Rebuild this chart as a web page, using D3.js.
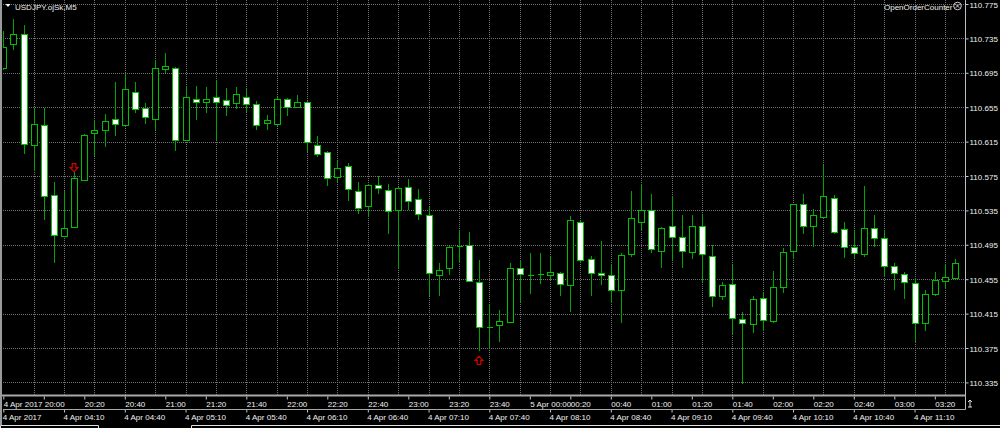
<!DOCTYPE html>
<html><head><meta charset="utf-8">
<script src="https://cdn.jsdelivr.net/npm/d3@7"></script>
<style>
body{margin:0;background:#000;overflow:hidden;}
svg{display:block;}
text{font-family:"Liberation Sans",Arial,sans-serif;font-size:8px;fill:#f0f0f0;}
</style>
</head><body>
<svg id="chart" width="1000" height="428"></svg>
<script>
// ---------------- DATA ----------------
const symbolTitle = "USDJPY.ojSk,M5";
const indicatorTitle = "OpenOrderCounter";

const open = [
110.701,110.728,110.740,110.611,110.634,110.553,110.506,110.516,110.571,110.625,
110.628,110.641,110.634,110.673,110.654,110.642,110.699,110.701,110.617,110.665,
110.661,110.667,110.663,110.659,110.667,110.659,110.636,110.636,110.665,110.655,
110.661,110.611,110.603,110.573,110.587,110.557,110.539,110.564,110.559,110.535,
110.562,110.548,110.530,110.460,110.468,110.494,110.495,110.452,110.399,110.401,
110.405,110.468,110.460,110.461,110.460,110.462,110.449,110.522,110.478,110.462,
110.460,110.442,110.484,110.521,110.535,110.488,110.517,110.504,110.487,110.517,
110.482,110.435,110.449,110.409,110.403,110.433,110.407,110.446,110.487,110.543,
110.517,110.528,110.550,110.513,110.492,110.485,110.515,110.503,110.470,110.461,
110.451,110.404,110.438,110.452,110.457];

const high = [
110.744,110.758,110.751,110.654,110.654,110.568,110.558,110.580,110.624,110.640,
110.647,110.684,110.694,110.684,110.660,110.710,110.718,110.702,110.680,110.680,
110.679,110.687,110.677,110.679,110.676,110.662,110.646,110.667,110.666,110.669,
110.662,110.621,110.604,110.592,110.590,110.568,110.566,110.575,110.566,110.562,
110.572,110.560,110.539,110.474,110.494,110.512,110.510,110.477,110.425,110.419,
110.474,110.477,110.486,110.485,110.481,110.463,110.528,110.523,110.482,110.499,
110.473,110.485,110.558,110.566,110.554,110.516,110.552,110.530,110.530,110.530,
110.495,110.452,110.472,110.417,110.435,110.440,110.464,110.491,110.543,110.554,
110.537,110.588,110.553,110.522,110.512,110.563,110.530,110.512,110.474,110.463,
110.456,110.443,110.463,110.473,110.479];

const low = [
110.698,110.721,110.601,110.581,110.524,110.474,110.505,110.515,110.570,110.598,
110.609,110.621,110.633,110.648,110.636,110.629,110.695,110.604,110.616,110.640,
110.648,110.617,110.645,110.653,110.650,110.629,110.628,110.633,110.645,110.654,
110.603,110.597,110.563,110.568,110.546,110.531,110.527,110.554,110.508,110.467,
110.535,110.524,110.435,110.435,110.460,110.474,110.452,110.371,110.375,110.382,
110.404,110.428,110.438,110.449,110.454,110.435,110.417,110.474,110.435,110.448,
110.427,110.404,110.481,110.512,110.485,110.468,110.477,110.468,110.479,110.452,
110.423,110.431,110.391,110.333,110.392,110.395,110.404,110.439,110.478,110.507,
110.492,110.527,110.508,110.480,110.480,110.481,110.493,110.458,110.442,110.432,
110.382,110.395,110.435,110.444,110.456];

const close = [
110.725,110.740,110.612,110.635,110.551,110.506,110.515,110.573,110.623,110.629,
110.639,110.635,110.676,110.653,110.644,110.701,110.703,110.617,110.667,110.661,
110.665,110.661,110.657,110.670,110.659,110.635,110.640,110.665,110.656,110.661,
110.614,110.601,110.573,110.584,110.560,110.537,110.564,110.560,110.535,110.561,
110.546,110.530,110.462,110.466,110.493,110.494,110.453,110.400,110.399,110.406,
110.468,110.461,110.460,110.461,110.463,110.449,110.524,110.478,110.462,110.460,
110.442,110.483,110.526,110.535,110.490,110.515,110.504,110.488,110.517,110.484,
110.435,110.448,110.409,110.404,110.432,110.407,110.446,110.487,110.542,110.517,
110.530,110.552,110.511,110.492,110.485,110.515,110.503,110.470,110.462,110.452,
110.404,110.438,110.454,110.457,110.474];

const priceTicks = [110.775,110.735,110.695,110.655,110.615,110.575,110.535,110.495,110.455,110.415,110.375,110.335];

// upper time scale: one label every 4 bars
const topTimeLabels = ["4 Apr 2017 20:00","","20:20","20:40","21:00","21:20","21:40","22:00","22:20","22:40","23:00","23:20",
  "23:40","5 Apr 00:00","00:20","00:40","01:00","01:20","01:40","02:00","02:20","02:40","03:00","03:20"];
// lower time scale: one label every 6 bars
const bottomTimeLabels = ["4 Apr 2017","4 Apr 04:10","4 Apr 04:40","4 Apr 05:10","4 Apr 05:40","4 Apr 06:10","4 Apr 06:40",
  "4 Apr 07:10","4 Apr 07:40","4 Apr 08:10","4 Apr 08:40","4 Apr 09:10","4 Apr 09:40","4 Apr 10:10","4 Apr 10:40","4 Apr 11:10"];

const signalBars = [7, 47];
const signalTypes = ["down", "up"];

// ---------------- DRAWING ----------------
const n = open.length;
const bars = d3.range(n);
const svg = d3.select("#chart");
const W = 1000, H = 428;
const plotLeft = 3, plotRight = 965.5, plotBottom = 395.5;

svg.append("rect").attr("width", W).attr("height", H).attr("fill", "#000");

const x = d3.scalePoint().domain(bars).range([3.3, 3.3 + 10.125 * (n - 1)]);
const y = d3.scaleLinear().domain([110.335, 110.775]).range([382.4, 4]);

svg.append("clipPath").attr("id", "plotclip")
  .append("rect").attr("x", plotLeft).attr("y", 0).attr("width", plotRight - plotLeft).attr("height", plotBottom);

// grid
const grid = svg.append("g").attr("stroke", "#727272").attr("stroke-width", 1)
  .attr("stroke-dasharray", "1,1").attr("shape-rendering", "crispEdges");
grid.selectAll("line.h").data(priceTicks).join("line").attr("class", "h")
  .attr("x1", plotLeft).attr("x2", plotRight)
  .attr("y1", d => Math.round(y(d)) + 0.5).attr("y2", d => Math.round(y(d)) + 0.5);
grid.selectAll("line.v").data(bars.filter(i => i > 0 && i % 3 === 0)).join("line").attr("class", "v")
  .attr("x1", d => Math.round(x(d)) + 0.5).attr("x2", d => Math.round(x(d)) + 0.5)
  .attr("y1", 0).attr("y2", plotBottom);

// candles
const cg = svg.append("g").attr("clip-path", "url(#plotclip)").attr("shape-rendering", "crispEdges");
const cx = i => Math.round(x(i)) + 0.5;
cg.selectAll("line.wick").data(bars).join("line").attr("class", "wick")
  .attr("x1", cx).attr("x2", cx)
  .attr("y1", i => y(high[i])).attr("y2", i => y(low[i]))
  .attr("stroke", "#00a400").attr("stroke-width", 1);
cg.selectAll("rect.body").data(bars.filter(i => open[i] !== close[i])).join("rect").attr("class", "body")
  .attr("x", i => cx(i) - 3).attr("width", 6)
  .attr("y", i => Math.round(y(Math.max(open[i], close[i]))) + 0.5)
  .attr("height", i => Math.max(1, Math.round(Math.abs(y(open[i]) - y(close[i])))))
  .attr("fill", i => close[i] > open[i] ? "#000" : "#ffffff")
  .attr("stroke", "#00c000").attr("stroke-width", 1);
cg.selectAll("line.doji").data(bars.filter(i => open[i] === close[i])).join("line").attr("class", "doji")
  .attr("x1", i => cx(i) - 3).attr("x2", i => cx(i) + 3)
  .attr("y1", i => Math.round(y(open[i])) + 0.5).attr("y2", i => Math.round(y(open[i])) + 0.5)
  .attr("stroke", "#00c000").attr("stroke-width", 1.5);

// signal arrows
const sg = svg.append("g").attr("fill", "none").attr("stroke", "#d40000").attr("stroke-width", 1.2);
signalBars.forEach((b, k) => {
  const c = cx(b) - 0.5;
  if (signalTypes[k] === "down") {
    const t = y(high[b]) - 8;
    sg.append("path").attr("d",
      `M${c-1.8},${t} L${c+1.8},${t} L${c+1.8},${t+4} L${c+4},${t+4} L${c},${t+8} L${c-4},${t+4} L${c-1.8},${t+4} Z`);
  } else {
    const t = y(low[b]) + 5;
    sg.append("path").attr("d",
      `M${c},${t} L${c+4},${t+4} L${c+1.8},${t+4} L${c+1.8},${t+8} L${c-1.8},${t+8} L${c-1.8},${t+4} L${c-4},${t+4} Z`);
  }
});

// price axis
const pa = svg.append("g").attr("transform", `translate(${plotRight},0)`)
  .call(d3.axisRight(y).tickValues(priceTicks).tickFormat(d3.format(".3f")).tickSize(3).tickPadding(1));
pa.select(".domain").remove();
pa.selectAll(".tick line").attr("stroke", "#c8c8c8");
pa.selectAll(".tick text").attr("dy", "0.38em").style("font-family", "Liberation Sans, Arial, sans-serif").style("font-size", "8px").attr("fill", "#f0f0f0");
svg.append("line").attr("x1", plotRight).attr("x2", plotRight).attr("y1", 0).attr("y2", 409.5)
  .attr("stroke", "#bdbdbd").attr("stroke-width", 1);

// frames
svg.append("line").attr("x1", 0).attr("x2", plotRight).attr("y1", plotBottom).attr("y2", plotBottom)
  .attr("stroke", "#a8a8a8").attr("stroke-width", 2);
svg.append("line").attr("x1", plotLeft).attr("x2", plotRight).attr("y1", 409.5).attr("y2", 409.5)
  .attr("stroke", "#a8a8a8").attr("stroke-width", 1);
svg.append("line").attr("x1", 1).attr("x2", 1).attr("y1", 0).attr("y2", 425)
  .attr("stroke", "#9a9a9a").attr("stroke-width", 2);

// upper time axis
const topBars = topTimeLabels.map((d, k) => k * 4);
const ta = svg.append("g").attr("transform", "translate(0,396.5)")
  .call(d3.axisBottom(x).tickValues(topBars).tickFormat((d, k) => topTimeLabels[k]).tickSize(3));
ta.select(".domain").remove();
ta.selectAll(".tick line").attr("stroke", "#c8c8c8");
ta.selectAll(".tick text").attr("text-anchor", "start").attr("y", 10.5).attr("dy", 0).attr("x", 0)
  .style("font-family", "Liberation Sans, Arial, sans-serif").style("font-size", "8px").attr("fill", "#f0f0f0");

// lower time axis
const botBars = bottomTimeLabels.map((d, k) => k * 6);
const ba = svg.append("g").attr("transform", "translate(0,410)")
  .call(d3.axisBottom(x).tickValues(botBars).tickFormat((d, k) => bottomTimeLabels[k]).tickSize(2.5));
ba.select(".domain").remove();
ba.selectAll(".tick line").attr("stroke", "#c8c8c8");
ba.selectAll(".tick text").attr("text-anchor", "start").attr("y", 10).attr("dy", 0).attr("x", -1)
  .style("font-family", "Liberation Sans, Arial, sans-serif").style("font-size", "8px").attr("fill", "#f0f0f0");

// shift icon at axis corner
svg.append("path").attr("d", "M970,400 L970,407 M968,402 L970,400 L972,402 M968,407 L972,407")
  .attr("stroke", "#dcdcdc").attr("fill", "none").attr("stroke-width", 1);

// bottom tabs
svg.append("path").attr("d", "M0.5,428 V425.5 H98.5 V428 M191.5,428 V425.5 H1000")
  .attr("stroke", "#e0e0e0").attr("fill", "none").attr("stroke-width", 1);

// header
svg.append("path").attr("d", "M5.5,4 L10.5,4 L8,7 Z").attr("fill", "#ffffff");
svg.append("text").attr("x", 15).attr("y", 9.5).text(symbolTitle);
svg.append("text").attr("x", 884).attr("y", 9.5).text(indicatorTitle);
svg.append("circle").attr("cx", 957.5).attr("cy", 6).attr("r", 3.8).attr("fill", "none").attr("stroke", "#e6e6e6").attr("stroke-width", 0.9);
svg.append("path").attr("d", "M955.8,4.3 L959.2,7.7 M959.2,4.3 L955.8,7.7").attr("stroke", "#e6e6e6").attr("stroke-width", 0.9);
</script>
</body></html>
